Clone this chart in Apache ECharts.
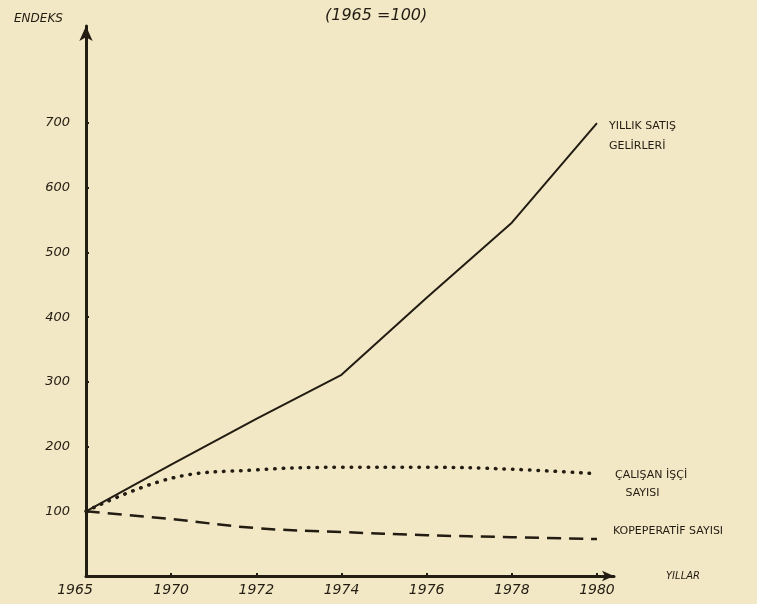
<!DOCTYPE html>
<html>
<head>
<meta charset="utf-8">
<style>
html,body{margin:0;padding:0;background:#f2e8c6;}
#c{width:757px;height:604px;}
</style>
<script src="https://cdn.jsdelivr.net/npm/echarts@6/dist/echarts.min.js"></script>
</head>
<body>
<div id="c"></div>
<script>
// Data
const years = ['1965', '1970', '1972', '1974', '1976', '1978', '1980'];
const yillikSatis = [100, 172, 243, 311, 430, 546, 700];
const calisanIsci = [100, 151, 164, 168, 168, 165, 158];
const kooperatif = [100, 88, 74, 68, 63, 60, 57];
const yTicks = [100, 200, 300, 400, 500, 600, 700];
const xTickIdx = [0, 1, 2, 3, 4, 5, 6];

const ink = '#231c12';
const font = '"DejaVu Sans", sans-serif';
const pts = arr => arr.map((v, i) => [i, v]);

const chart = echarts.init(document.getElementById('c'));
chart.setOption({
  backgroundColor: '#f2e8c6',
  animation: false,
  title: [
    { text: '(1965 =100)', left: 320, top: 3,
      textStyle: { fontFamily: font, fontSize: 16, fontStyle: 'italic', fontWeight: 'normal', color: ink } },
    { text: 'ENDEKS', left: 9, top: 8,
      textStyle: { fontFamily: font, fontSize: 12, fontStyle: 'italic', fontWeight: 'normal', color: ink } }
  ],
  grid: { left: 86, right: 143, top: 26, bottom: 28, containLabel: false },
  xAxis: {
    type: 'value', min: 0, max: 6.2, interval: 1,
    name: 'YILLAR', nameLocation: 'end', nameGap: 52,
    nameTextStyle: { fontFamily: font, fontSize: 10, color: ink, fontStyle: 'italic' },
    axisLine: { show: true, lineStyle: { color: ink, width: 3 }, symbol: ['none', 'arrow'], symbolSize: [8, 12] },
    axisTick: { show: true, inside: true, length: 3, customValues: xTickIdx.slice(1), lineStyle: { color: ink, width: 2 } },
    axisLabel: {
      customValues: xTickIdx,
      formatter: v => {
        const i = Math.round(v);
        if (!years[i]) return '';
        return i === 0 ? '{f|' + years[i] + '}' : years[i];
      },
      rich: { f: { fontFamily: font, fontSize: 14, fontStyle: 'italic', color: ink, padding: [0, 22, 0, 0] } },
      fontFamily: font, fontSize: 14, fontStyle: 'italic', color: ink, margin: 7
    },
    splitLine: { show: false }
  },
  yAxis: {
    type: 'value', min: 0, max: 850, interval: 100,
    axisLine: { show: true, lineStyle: { color: ink, width: 3 }, symbol: ['none', 'arrow'], symbolSize: [10, 15] },
    axisTick: { show: true, inside: true, length: 3, customValues: yTicks, lineStyle: { color: ink, width: 2 } },
    axisLabel: {
      customValues: yTicks,
      formatter: v => (v >= 100 && v <= 700) ? String(v) : '',
      fontFamily: font, fontSize: 13, fontStyle: 'italic', color: ink, margin: 16
    },
    splitLine: { show: false }
  },
  series: [
    {
      name: 'YILLIK SATIŞ GELİRLERİ', type: 'line', data: pts(yillikSatis),
      showSymbol: false, symbol: 'none',
      lineStyle: { color: ink, width: 2 },
      endLabel: { show: true, formatter: 'YILLIK SATIŞ\nGELİRLERİ', fontFamily: font, fontSize: 11,
        color: ink, align: 'left', verticalAlign: 'top', lineHeight: 20, offset: [4, -7] }
    },
    {
      name: 'ÇALIŞAN İŞÇİ SAYISI', type: 'line', data: pts(calisanIsci),
      showSymbol: false, symbol: 'none', smooth: 0.4,
      lineStyle: { color: ink, width: 3.5, type: [0.5, 8], cap: 'round' },
      endLabel: { show: true, formatter: 'ÇALIŞAN İŞÇİ\n   SAYISI', fontFamily: font, fontSize: 11,
        color: ink, align: 'left', verticalAlign: 'top', lineHeight: 18, offset: [10, -8] }
    },
    {
      name: 'KOOPERATİF SAYISI', type: 'line', data: pts(kooperatif),
      showSymbol: false, symbol: 'none', smooth: 0.4,
      lineStyle: { color: ink, width: 2.5, type: [14, 8] },
      endLabel: { show: true, formatter: 'KOPEPERATİF SAYISI', fontFamily: font, fontSize: 11,
        color: ink, align: 'left', verticalAlign: 'middle', offset: [8, -8] }
    }
  ]
});
</script>
</body>
</html>
